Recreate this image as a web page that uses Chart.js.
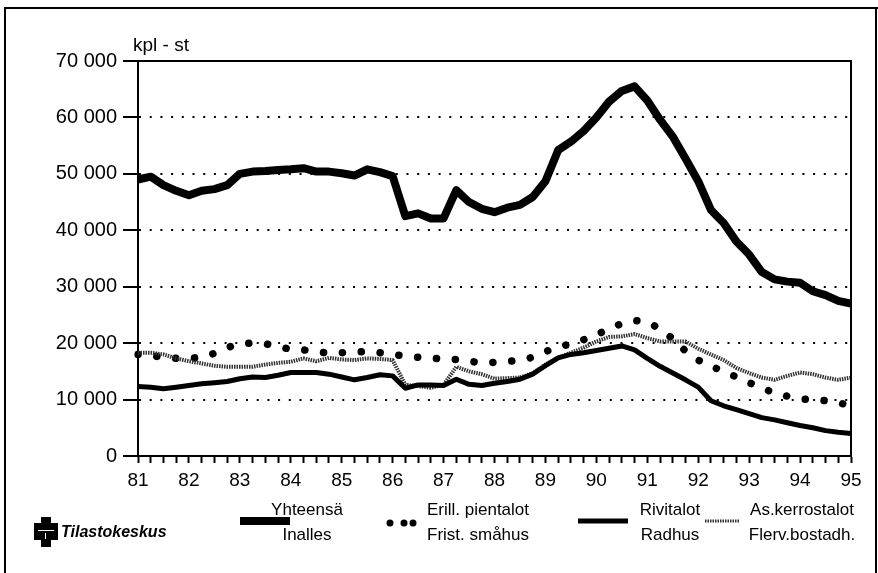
<!DOCTYPE html>
<html>
<head>
<meta charset="utf-8">
<script src="https://cdn.jsdelivr.net/npm/chart.js@4/dist/chart.umd.min.js"></script>
<style>
    html, body { margin: 0; padding: 0; background: #ffffff; }
    #wrap { width: 878px; height: 573px; position: relative; }
</style>
</head>
<body>
<div id="wrap"><canvas id="mychart" width="878" height="573"></canvas></div>
<script>
// years on the x axis, 4 quarters each, 81 Q1 .. 95 Q1
let years = ['81', '82', '83', '84', '85', '86', '87', '88', '89', '90', '91', '92', '93', '94', '95'];
let yTicks = [0, 10000, 20000, 30000, 40000, 50000, 60000, 70000];

// Yhteensä / Inalles
let total = [
    49000, 49500, 48000, 47000, 46200, 47000, 47300, 48000,
    50000, 50400, 50500, 50700, 50800, 51000, 50400, 50400,
    50100, 49700, 50800, 50300, 49600, 42500, 43000, 42100,
    42100, 47100, 45000, 43800, 43200, 44000, 44500, 45900,
    48700, 54200, 55700, 57600, 60000, 62800, 64700, 65500,
    63000, 59600, 56600, 52700, 48700, 43600, 41300, 38000,
    35700, 32600, 31300, 30900, 30700, 29200, 28500, 27500,
    27000
];
// Erill. pientalot / Frist. småhus
let detached = [
    18000, 17800, 17500, 17300, 17300, 17500, 18200, 19200,
    19900, 20000, 19900, 19400, 18900, 18800, 18500, 18200,
    18300, 18400, 18500, 18300, 18000, 17700, 17500, 17400,
    17100, 17100, 16800, 16500, 16600, 16800, 16900, 17500,
    18500, 19300, 19900, 20600, 21500, 22500, 23500, 24000,
    23800, 22500, 20800, 18600, 17000, 15900, 15000, 14000,
    13000, 12000, 11200, 10600, 10100, 10000, 9800, 9500,
    8800
];
// Rivitalot / Radhus
let terraced = [
    12300, 12200, 11900, 12200, 12500, 12800, 13000, 13200,
    13700, 14000, 13900, 14300, 14800, 14800, 14800, 14500,
    14000, 13500, 13900, 14400, 14200, 12000, 12600, 12600,
    12500, 13600, 12700, 12500, 12900, 13200, 13600, 14500,
    16000, 17400, 18000, 18300, 18700, 19100, 19500, 18800,
    17300, 15900, 14700, 13500, 12200, 9800, 8900, 8200,
    7500, 6800, 6400, 5900, 5400, 5000, 4500, 4200,
    4000
];
// As.kerrostalot / Flerv.bostadh.
let blocks = [
    18300, 18300, 18000, 17300, 16800, 16400, 16000, 15800,
    15800, 15800, 16200, 16500, 16700, 17300, 16800, 17400,
    17100, 17000, 17300, 17200, 17000, 12600, 12400, 12100,
    12600, 15800, 15000, 14500, 13700, 13800, 13900, 14700,
    16200, 17400, 18300, 19200, 20300, 21100, 21200, 21600,
    20900, 20300, 20300, 20300, 19000, 18000, 17000, 15600,
    14700, 13900, 13500, 14200, 14800, 14500, 13900, 13500,
    13900
];

let legendTop = ['Yhteensä', 'Erill. pientalot', 'Rivitalot', 'As.kerrostalot'];
let legendBottom = ['Inalles', 'Frist. småhus', 'Radhus', 'Flerv.bostadh.'];

let quarters = [];
for (let i = 0; i < years.length; i++) {
    let n = (i == years.length - 1) ? 1 : 4;
    for (let q = 1; q <= n; q++) {
        quarters.push(years[i] + 'Q' + q);
    }
}

function spaced(v) {
    return String(v).replace(/\B(?=(\d{3})+(?!\d))/g, ' ');
}

// frame, plot box, unit text and the legend row
let decor = {
    id: 'decor',
    afterDraw: function (chart) {
        let c = chart.ctx;
        let a = chart.chartArea;
        c.save();
        c.strokeStyle = '#000';
        c.lineWidth = 2;
        c.beginPath();
        c.moveTo(5, 573);
        c.lineTo(5, 8);
        c.lineTo(878, 8);
        c.moveTo(876, 8);
        c.lineTo(876, 573);
        c.stroke();

        c.beginPath();
        c.moveTo(a.left, a.top);
        c.lineTo(a.right, a.top);
        c.lineTo(a.right, a.bottom);
        c.stroke();

        c.fillStyle = '#000';
        c.font = '19px "Liberation Sans", Arial, sans-serif';
        c.textBaseline = 'middle';
        c.textAlign = 'left';
        c.fillText('kpl - st', 133, 46);

        // logo
        c.fillRect(41, 517, 10, 30);
        c.fillRect(34, 523, 24, 17);
        c.fillStyle = '#fff';
        c.fillRect(38, 530, 16, 1);
        c.fillRect(45, 533, 1, 6);
        c.fillStyle = '#000';
        c.font = 'italic bold 16px "Liberation Sans", Arial, sans-serif';
        c.fillText('Tilastokeskus', 61, 533);

        // legend samples
        let ly = 521;
        c.lineCap = 'butt';
        c.lineWidth = 8;
        c.beginPath(); c.moveTo(240, ly); c.lineTo(290, ly); c.stroke();
        c.lineWidth = 5;
        c.beginPath(); c.moveTo(578, ly); c.lineTo(628, ly); c.stroke();
        c.strokeStyle = '#333';
        c.lineWidth = 3;
        c.setLineDash([1.5, 1]);
        c.beginPath(); c.moveTo(705, ly); c.lineTo(740, ly); c.stroke();
        c.setLineDash([]);
        c.fillStyle = '#000';
        let dots = [390, 404, 413];
        for (let d in dots) {
            c.beginPath();
            c.arc(dots[d], ly + 2, 3.5, 0, Math.PI * 2);
            c.fill();
        }

        c.font = '17px "Liberation Sans", Arial, sans-serif';
        c.textAlign = 'center';
        let cx = [307, 478, 670, 802];
        for (let k in cx) {
            c.fillText(legendTop[k], cx[k], 510);
            c.fillText(legendBottom[k], cx[k], 535);
        }
        c.restore();
    }
};

let chartdata = {
    labels: quarters,
    datasets: [{
        label: legendTop[1],
        data: detached,
        borderColor: '#000',
        borderWidth: 7.5,
        borderDash: [0.1, 18.8],
        borderCapStyle: 'round',
        order: 4
    }, {
        label: legendTop[3],
        data: blocks,
        borderColor: '#333',
        borderWidth: 4,
        borderDash: [1.5, 1],
        order: 3
    }, {
        label: legendTop[2],
        data: terraced,
        borderColor: '#000',
        borderWidth: 5,
        order: 2
    }, {
        label: legendTop[0],
        data: total,
        borderColor: '#000',
        borderWidth: 8,
        order: 1
    }]
};

let ctx = document.getElementById('mychart');
let myLineChart = new Chart(ctx, {
    type: 'line',
    data: chartdata,
    plugins: [decor],
    options: {
        responsive: false,
        animation: false,
        layout: { padding: { left: 0, top: 61, right: 27, bottom: 77 } },
        elements: {
            point: { radius: 0 },
            line: { tension: 0, fill: false, borderJoinStyle: 'round' }
        },
        plugins: {
            legend: { display: false },
            tooltip: { enabled: false }
        },
        scales: {
            x: {
                offset: false,
                afterFit: function (scale) { scale.height = 40; },
                grid: {
                    drawOnChartArea: false,
                    drawTicks: true,
                    tickLength: 7,
                    tickColor: '#000',
                    tickWidth: 2
                },
                border: { display: true, color: '#000', width: 2 },
                ticks: {
                    autoSkip: false,
                    maxRotation: 0,
                    padding: 6,
                    color: '#000',
                    font: { family: '"Liberation Sans", Arial, sans-serif', size: 19 },
                    callback: function (v) {
                        let s = this.getLabelForValue(v);
                        return s.slice(-2) == 'Q1' ? s.slice(0, 2) : '';
                    }
                }
            },
            y: {
                min: yTicks[0],
                max: yTicks[yTicks.length - 1],
                afterFit: function (scale) { scale.width = 138; },
                afterBuildTicks: function (scale) {
                    scale.ticks = yTicks.map(function (v) { return { value: v }; });
                },
                grid: {
                    color: function (c) {
                        let v = c.tick ? c.tick.value : 0;
                        return (v == yTicks[0] || v == yTicks[yTicks.length - 1]) ? 'rgba(0,0,0,0)' : '#000';
                    },
                    lineWidth: 2,
                    drawTicks: true,
                    tickLength: 15,
                    tickColor: '#000',
                    tickWidth: 2,
                    tickBorderDash: []
                },
                border: { display: true, color: '#000', width: 2, dash: [2, 8.7] },
                ticks: {
                    padding: 6,
                    color: '#000',
                    font: { family: '"Liberation Sans", Arial, sans-serif', size: 20 },
                    callback: function (v) { return spaced(v); }
                }
            }
        }
    }
});
</script>
</body>
</html>
